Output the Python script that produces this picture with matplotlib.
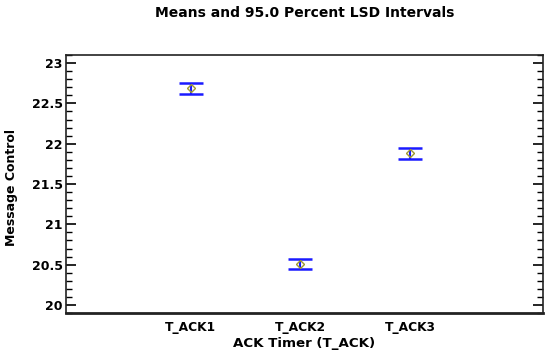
import matplotlib.pyplot as plt
from matplotlib.ticker import MultipleLocator

plt.rcParams['font.family'] = ['DejaVu Sans']

groups = ["T_ACK1", "T_ACK2", "T_ACK3"]
means = [22.69, 20.51, 21.885]
lower = [22.62, 20.44, 21.815]
upper = [22.755, 20.575, 21.95]

fig = plt.figure(figsize=(5.5, 3.59), dpi=100)
ax = fig.add_axes([66 / 550, 1 - 313 / 359, 477 / 550, 258 / 359])

x = list(range(len(groups)))
err = [[m - l for m, l in zip(means, lower)], [u - m for m, u in zip(means, upper)]]
ax.errorbar(x, means, yerr=err, fmt='none', ecolor='#1a1aff', elinewidth=1.5,
            capsize=8.3, capthick=1.8)
ax.plot(x, means, linestyle='none', marker='D', markersize=4.5,
        markerfacecolor='none', markeredgecolor='#a09a30', markeredgewidth=1.0)

ax.set_xlim(-1.136, 3.21)
ax.set_ylim(19.9, 23.1)
ax.set_xticks(x)
ax.set_xticklabels(groups, fontsize=8.8, fontweight='bold')
ax.tick_params(axis='x', length=0, pad=5.5)

ax.yaxis.set_minor_locator(MultipleLocator(0.1))
ax.set_yticks([20, 20.5, 21, 21.5, 22, 22.5, 23])
ax.set_yticklabels(['20', '20.5', '21', '21.5', '22', '22.5', '23'], fontsize=9, fontweight='bold')
ax.tick_params(axis='y', which='major', direction='in', length=7, width=1.2, right=True, pad=2.5)
ax.tick_params(axis='y', which='minor', direction='in', length=4, width=1.0, right=True)

for s in ax.spines.values():
    s.set_linewidth(1.2)
    s.set_color('#222222')
ax.spines['bottom'].set_linewidth(2)

fig.text(304 / 550, 1 - 344 / 359, "ACK Timer (T_ACK)", ha='center', va='center',
         fontsize=9.6, fontweight='bold')
fig.text(12 / 550, 1 - 187 / 359, "Message Control", ha='center', va='center', rotation=90,
         fontsize=9, fontweight='bold')
fig.text(305 / 550, 1 - 13 / 359, "Means and 95.0 Percent LSD Intervals", ha='center', va='center',
         fontsize=10, fontweight='bold')

plt.savefig("out.png", dpi=100)
